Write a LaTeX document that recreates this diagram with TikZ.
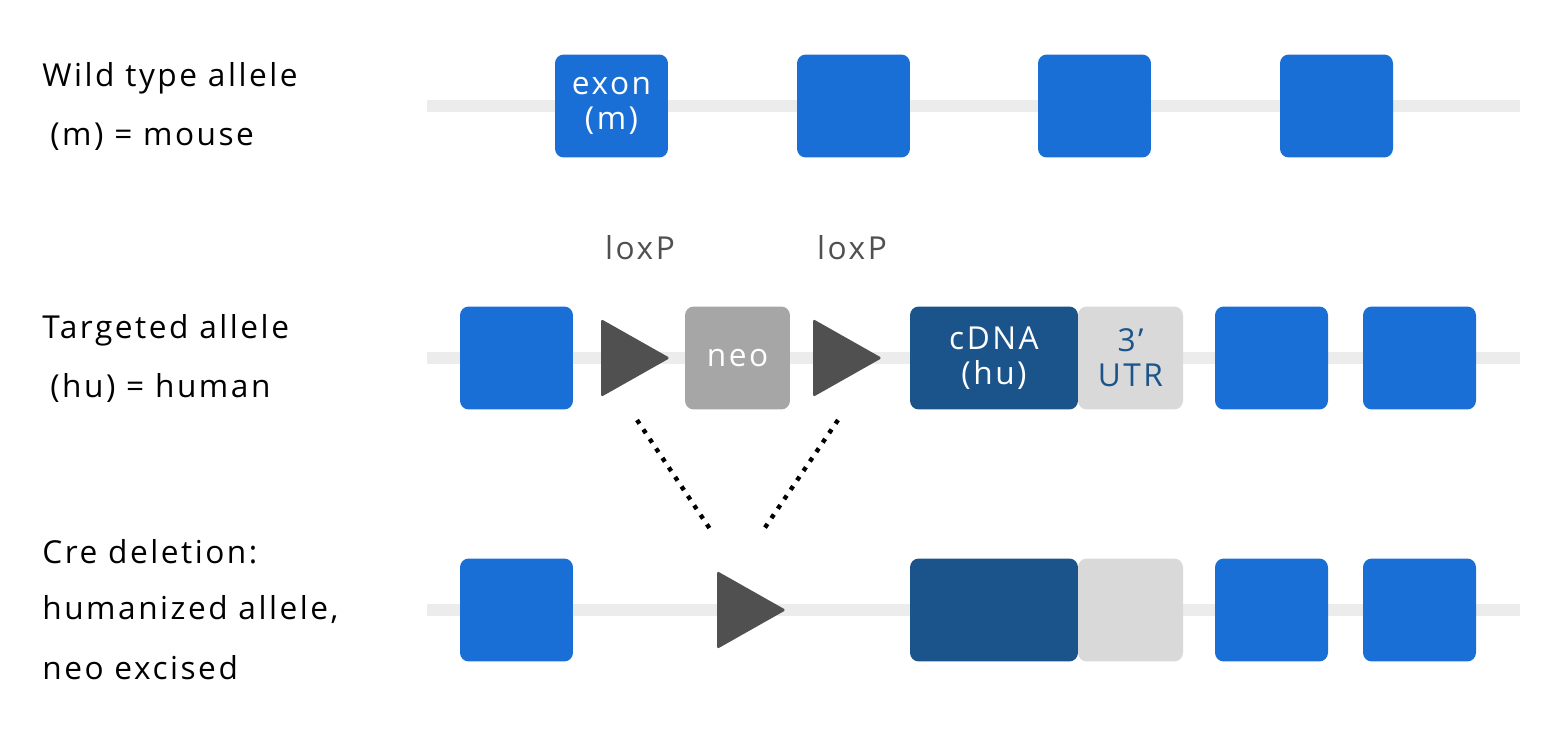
\documentclass[tikz,border=0pt]{standalone}
\usepackage{fontspec}
\setmainfont{Open Sans}[LetterSpace=8]
\usetikzlibrary{positioning}
\definecolor{exonblue}{HTML}{1A6FD6}
\definecolor{cdnablue}{HTML}{1A548A}
\definecolor{neogray}{HTML}{A6A6A6}
\definecolor{utrgray}{HTML}{D9D9D9}
\definecolor{loxgray}{HTML}{505050}
\definecolor{linegray}{HTML}{ECECEC}
\tikzset{
  box/.style={rounded corners=5pt, inner sep=0pt, font=\fontsize{18}{20}\selectfont, align=center, text=white},
  exon/.style={box, fill=exonblue, minimum width=2.26cm, minimum height=2.06cm},
  lab/.style={anchor=west, font=\fontsize{18}{20}\selectfont, inner sep=0pt},
  dna/.style={linegray, line width=7pt}
}
\newcommand{\loxtri}[2]{\fill[loxgray, rounded corners=1pt] (#1-34,#2-39) -- (#1+35,#2) -- (#1-34,#2+39) -- cycle;}
\begin{document}
\begin{tikzpicture}[x=0.02cm, y=-0.02cm]
\useasboundingbox (0,0) rectangle (1566,744);
% labels
\node[lab] (l1) at (42,78) {Wild type allele};
\node[lab] (l2) at (50,137) {(m) = mouse};
\node[lab] (l3) at (42,330) {Targeted allele};
\node[lab] (l4) at (50,388) {(hu) = human};
\node[lab] (l5) at (42,552) {Cre deletion:};
\node[lab] (l6) at (42,610) {humanized allele,};
\node[lab] (l7) at (42,668) {neo excised};
% wild type
\draw[dna] (427,106) -- (1520,106);
\node[exon] (w1) at (611.5,106) {exon\\(m)};
\foreach \x [count=\i from 2] in {853.5,1094.5,1336.5}
  \node[exon] (w\i) at (\x,106) {};
% targeted
\draw[dna] (427,358) -- (1520,358);
\node[exon] (t1) at (516.5,358) {};
\loxtri{635}{358}
\node[box, fill=neogray, minimum width=2.1cm, minimum height=2.06cm] (neo) at (737.5,358) {neo};
\loxtri{847}{358}
\node[box, fill=cdnablue, minimum width=3.36cm, minimum height=2.06cm] (cdna) at (994,358) {cDNA\\(hu)};
\node[box, fill=utrgray, text=cdnablue, minimum width=2.1cm, minimum height=2.06cm] (utr) at (1130.5,358) {3\char"27\\UTR};
\node[exon] (t2) at (1271.5,358) {};
\node[exon] (t3) at (1419.5,358) {};
\node[text=loxgray, font=\fontsize{18}{20}\selectfont] (lox1) at (640,248) {loxP};
\node[text=loxgray, font=\fontsize{18}{20}\selectfont] (lox2) at (852,248) {loxP};
% cre deletion
\draw[dna] (427,610) -- (1520,610);
\node[exon] (c1) at (516.5,610) {};
\loxtri{751}{610}
\node[box, fill=cdnablue, minimum width=3.36cm, minimum height=2.06cm] (cdna2) at (994,610) {};
\node[box, fill=utrgray, minimum width=2.1cm, minimum height=2.06cm] (utr2) at (1130.5,610) {};
\node[exon] (c2) at (1271.5,610) {};
\node[exon] (c3) at (1419.5,610) {};
% dotted
\coordinate (d1) at (637,420); \coordinate (d2) at (712,532);
\coordinate (d3) at (838,420); \coordinate (d4) at (762,532);
\draw[line width=2.5pt, dash pattern=on 2.5pt off 4pt] (d1) -- (d2);
\draw[line width=2.5pt, dash pattern=on 2.5pt off 4pt] (d3) -- (d4);
\end{tikzpicture}
\end{document}
